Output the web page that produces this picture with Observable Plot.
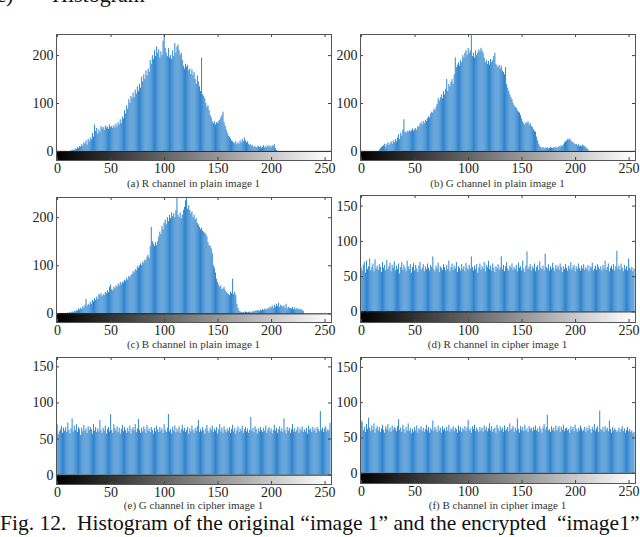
<!DOCTYPE html>
<html>
<head>
<meta charset="utf-8">
<script src="https://cdn.jsdelivr.net/npm/d3@7"></script>
<script src="https://cdn.jsdelivr.net/npm/@observablehq/plot@0.6"></script>
<style>
  html, body { margin: 0; padding: 0; background: #fff; }
  #root { position: relative; width: 640px; height: 537px; overflow: hidden; font-family: "Liberation Serif", serif; color: #222; background: #fff; }
  .panel { position: absolute; }
  .panel svg { background: transparent !important; }
  .panel svg text { font-family: "Liberation Serif", serif !important; }
  .lbl { position: absolute; font-size: 11px; transform: translate(-50%, -50%); white-space: nowrap; color: #333; font-family: "Liberation Serif", serif; }
  .cap { position: absolute; font-size: 21.5px; white-space: pre; line-height: 1; color: #111; font-family: "Liberation Serif", serif; }
</style>
</head>
<body>
<div id="root"></div>
<script>
// ---- data ----
const xTickValues = [0, 50, 100, 150, 200, 250];
const plainYTicks = [0, 100, 200];
const cipherYTicks = [0, 50, 100, 150];

const panelLabels = [
  "(a) R channel in plain image 1",
  "(b) G channel in plain image 1",
  "(c) B channel in plain image 1",
  "(d) R channel in cipher image 1",
  "(e) G channel in cipher image 1",
  "(f) B channel in cipher image 1"
];
const captionText = "Fig. 12.  Histogram of the original \u201cimage 1\u201d and the encrypted  \u201cimage1\u201d";
const headingPrefix = "(c)";
const headingWord = "Histogram";

const plainR = [
0,0,0,0,0,0,0,0,0,0,0,0,0,1,2,3,
2,5,4,8,6,10,9,14,11,18,15,22,13,25,20,28,
24,38,30,55,42,48,36,45,40,52,47,50,44,53,49,51,
46,55,50,52,48,54,49,57,51,60,55,66,58,72,68,85,
78,95,88,108,100,115,110,122,112,128,120,135,125,140,132,155,
145,160,150,168,158,172,165,190,182,200,192,210,198,218,205,212,
195,208,200,230,245,215,205,198,215,195,200,192,210,198,225,205,
218,222,210,200,205,190,178,172,182,176,180,168,172,160,170,158,
165,150,140,158,145,135,125,195,118,115,110,100,92,95,85,75,
70,62,58,62,55,60,58,62,65,70,75,82,60,52,45,38,
32,30,26,22,20,18,16,20,14,18,15,22,18,25,20,28,
22,18,20,15,12,14,10,12,8,10,7,9,11,8,10,6,
9,12,7,10,8,12,9,11,8,12,10,14,6,2,0,0,
0,0,0,0,0,0,0,0,0,0,0,0,0,0,0,0,
0,0,0,0,0,0,0,0,0,0,0,0,0,0,0,0,
0,0,0,0,0,0,0,0,0,0,0,0,0,0,0,0
];
const plainG = [
0,0,0,0,0,0,0,0,0,0,0,0,0,0,0,0,
0,3,6,8,10,12,15,9,14,18,12,16,20,15,22,18,
25,20,28,35,25,38,32,45,66,40,38,42,40,44,41,43,
47,42,45,48,44,52,50,56,60,55,62,58,65,62,68,72,
70,78,82,80,88,85,92,98,110,105,112,118,110,125,118,130,
150,125,140,135,145,150,140,160,195,175,180,185,178,190,185,200,
195,205,210,200,215,205,210,245,198,205,195,210,200,205,212,208,
215,210,205,195,185,190,182,188,180,192,185,190,198,205,182,178,
175,180,172,178,168,165,160,175,140,132,125,118,112,108,100,95,
92,90,85,82,80,75,68,62,58,55,60,58,62,55,58,52,
50,45,42,40,30,22,15,10,8,6,8,5,7,6,8,5,
6,8,7,6,8,7,9,6,8,10,9,12,10,14,18,20,
22,25,24,26,22,20,18,16,14,15,12,14,10,12,9,13,
11,10,8,6,3,0,0,0,0,0,0,0,0,0,0,0,
0,0,0,0,0,0,0,0,0,0,0,0,0,0,0,0,
0,0,0,0,0,0,0,0,0,0,0,0,0,0,0,0
];
const plainB = [
0,0,0,0,0,0,0,0,0,1,2,1,3,2,4,3,
5,4,7,5,10,8,12,9,15,12,18,30,16,20,18,24,
20,28,25,32,28,35,30,40,38,42,36,40,38,45,42,48,
44,55,60,50,48,55,52,58,55,62,58,65,60,66,64,70,
68,74,70,78,75,80,82,88,85,92,90,98,95,100,104,100,
108,105,112,110,118,122,115,140,180,150,145,140,148,142,150,160,
170,165,182,175,188,195,185,200,192,205,198,210,202,208,200,215,
243,205,200,210,198,205,215,222,235,243,218,225,215,208,212,200,
205,195,198,188,185,180,175,178,172,170,168,165,160,148,142,140,
135,125,100,95,85,72,65,60,55,58,50,52,55,48,45,42,
40,38,45,42,72,40,45,38,20,12,6,4,3,2,3,2,
4,3,2,3,4,2,3,5,4,6,5,7,6,5,8,6,
9,7,10,8,9,12,10,14,12,16,11,18,14,20,15,22,
13,18,16,14,17,12,20,10,14,12,11,10,13,9,12,8,
11,9,10,8,9,7,5,0,0,0,0,0,0,0,0,0,
0,0,0,0,0,0,0,0,0,0,0,0,0,0,0,0
];
const cipherR = [
62,58,66,70,55,72,60,64,75,58,63,68,57,74,61,65,
59,67,63,56,70,62,66,58,73,60,64,69,57,66,62,71,
58,65,60,68,54,63,70,59,66,62,57,72,64,60,67,55,
63,69,58,66,61,56,65,70,59,62,67,57,64,60,68,62,
58,66,63,78,60,57,65,61,69,56,64,62,59,67,63,58,
66,60,72,57,63,68,59,65,61,70,56,64,62,58,67,60,
64,57,69,62,59,66,61,78,63,58,65,60,67,55,62,68,
59,64,61,70,57,66,63,72,60,65,58,68,62,56,64,61,
67,59,63,78,60,66,57,64,70,61,58,65,62,68,59,63,
60,66,57,69,62,64,58,72,61,56,65,85,60,63,67,58,
64,61,68,57,63,66,59,71,62,60,65,58,82,63,61,67,
58,64,60,69,62,57,66,61,65,59,68,63,56,64,60,67,
62,58,65,61,70,59,63,66,57,64,60,68,62,58,65,61,
67,59,63,60,66,57,64,62,69,58,61,65,59,67,63,60,
64,58,66,61,72,59,63,68,57,62,65,60,67,58,64,86,
61,65,59,68,62,57,66,60,64,58,75,62,59,63,57,61
];
const cipherG = [
70,56,60,63,68,58,65,61,66,59,72,62,57,64,78,60,
68,62,70,59,66,63,55,65,60,69,61,64,58,67,62,66,
63,57,70,61,66,59,64,60,76,62,58,65,61,68,57,63,
66,60,84,62,58,70,64,61,67,59,65,57,63,69,60,66,
62,58,65,60,68,57,63,66,61,70,59,64,77,62,58,65,
60,67,63,58,69,61,64,59,66,62,57,65,60,68,63,59,
66,61,64,58,70,62,59,65,84,60,63,57,66,61,68,59,
64,60,67,58,63,69,61,65,59,62,66,57,64,60,68,62,
58,65,61,67,76,59,63,60,66,62,57,64,69,61,58,65,
62,68,59,64,61,66,57,63,70,60,65,58,67,62,59,64,
61,66,58,63,69,60,65,57,62,67,59,64,61,68,58,63,
66,60,64,58,62,80,61,65,59,67,63,57,64,60,66,62,
59,65,61,68,58,63,66,60,64,57,62,69,61,65,58,63,
67,60,64,59,78,62,57,66,61,65,58,63,70,60,64,59,
62,66,58,64,61,67,59,63,60,65,57,68,62,64,59,66,
61,64,58,66,63,60,88,62,65,59,64,67,60,63,61,72
];
const cipherB = [
74,72,60,65,58,69,62,78,64,59,67,61,70,57,63,66,
60,65,58,63,68,61,57,66,62,69,59,64,58,67,61,65,
63,59,66,76,61,64,58,68,62,57,65,60,70,59,63,56,
62,58,65,60,67,57,63,61,66,59,64,58,62,68,60,65,
57,63,61,74,59,65,62,58,67,60,64,57,66,61,63,59,
65,60,68,58,63,61,66,59,64,62,57,67,60,65,58,63,
61,66,59,64,75,60,63,57,66,62,68,59,64,61,58,65,
60,64,58,67,61,65,59,63,70,60,66,58,62,64,57,68,
63,59,66,61,64,58,67,60,62,65,59,70,61,63,66,58,
64,60,77,62,57,66,61,65,59,68,60,63,58,66,62,64,
59,65,61,67,60,63,58,66,62,57,64,69,61,65,82,60,
62,58,66,61,64,59,67,60,63,66,58,65,61,68,59,63,
64,60,62,57,66,61,65,59,68,62,58,64,60,67,63,59,
61,65,58,64,60,67,62,57,65,61,69,59,63,66,58,88,
62,60,65,58,66,61,64,59,74,62,57,65,60,63,61,58,
60,64,58,62,66,59,63,57,61,65,59,62,58,60,56,58
];
const grayLevels = d3.range(256);

// ---- layout ----
const root = document.getElementById("root");
const MT = 10, MB = 22;
const FONT = "Liberation Serif, serif";
const panels = [
  {vals: plainR,  yDomain: [-19, 244],  yTicks: plainYTicks,  left: 0,   W: 340, ml: 56, mr: 9, frameTop: 34,  frameH: 126, labelY: 183},
  {vals: plainG,  yDomain: [-19, 244],  yTicks: plainYTicks,  left: 320, W: 320, ml: 40, mr: 5, frameTop: 34,  frameH: 126, labelY: 183},
  {vals: plainB,  yDomain: [-18, 242],  yTicks: plainYTicks,  left: 0,   W: 340, ml: 56, mr: 9, frameTop: 197, frameH: 125, labelY: 344},
  {vals: cipherR, yDomain: [-15, 165],  yTicks: cipherYTicks, left: 320, W: 320, ml: 40, mr: 5, frameTop: 195, frameH: 127, labelY: 344},
  {vals: cipherG, yDomain: [-13, 163],  yTicks: cipherYTicks, left: 0,   W: 340, ml: 56, mr: 9, frameTop: 357, frameH: 127, labelY: 505},
  {vals: cipherB, yDomain: [-14.5, 164],yTicks: cipherYTicks, left: 320, W: 320, ml: 40, mr: 5, frameTop: 357, frameH: 126, labelY: 505}
];

function makePanel(p) {
  const xd = [-1, 256];
  const iw = p.W - p.ml - p.mr;
  const kx = iw / (xd[1] - xd[0]);
  const ky = p.frameH / (p.yDomain[1] - p.yDomain[0]);
  const tl = 3;
  const data = p.vals.map((v, i) => ({i, v}));
  const [y0, y1] = p.yDomain;
  return Plot.plot({
    width: p.W, height: p.frameH + MT + MB,
    marginLeft: p.ml, marginRight: p.mr, marginTop: MT, marginBottom: MB,
    x: {domain: xd},
    y: {domain: p.yDomain},
    color: {type: "identity"},
    style: {fontFamily: FONT, fontSize: "14px", background: "transparent", color: "#222", overflow: "visible"},
    marks: [
      Plot.rect(grayLevels, {x1: i => i - 0.5, x2: i => i + 0.5, y1: y0, y2: 0, fill: i => `rgb(${i},${i},${i})`, shapeRendering: "crispEdges"}),
      Plot.rect(data, {x1: d => d.i - 0.5, x2: d => d.i + 0.5, y1: 0, y2: "v", fill: "#2b82cd", insetLeft: 0.1, clip: true}),
      Plot.ruleY([0], {stroke: "#222", strokeWidth: 1}),
      Plot.ruleX(xTickValues, {x: d => d, y1: y1, y2: y1 - tl / ky, stroke: "#444"}),
      Plot.ruleX(xTickValues, {x: d => d, y1: y0, y2: y0 + tl / ky, stroke: "#444"}),
      Plot.ruleY(p.yTicks, {y: d => d, x1: xd[0], x2: xd[0] + tl / kx, stroke: "#444"}),
      Plot.ruleY(p.yTicks, {y: d => d, x1: xd[1], x2: xd[1] - tl / kx, stroke: "#444"}),
      Plot.frame({stroke: "#555"}),
      Plot.axisX({ticks: xTickValues, tickSize: 0, tickPadding: 3, label: null, fontSize: 14, fontFamily: FONT, fill: "#222"}),
      Plot.axisY({ticks: p.yTicks, tickSize: 0, tickPadding: 3, label: null, fontSize: 14, fontFamily: FONT, fill: "#222"})
    ]
  });
}

panels.forEach((p) => {
  const div = document.createElement("div");
  div.className = "panel";
  div.style.left = p.left + "px";
  div.style.top = (p.frameTop - MT) + "px";
  div.appendChild(makePanel(p));
  root.appendChild(div);
});
panels.forEach((p, k) => {
  const lbl = document.createElement("div");
  lbl.className = "lbl";
  lbl.textContent = panelLabels[k];
  lbl.style.left = (p.left + p.ml + (p.W - p.ml - p.mr) / 2) + "px";
  lbl.style.top = p.labelY + "px";
  root.appendChild(lbl);
});

const head1 = document.createElement("div");
head1.className = "cap";
head1.style.fontSize = "22px";
head1.textContent = headingPrefix;
head1.style.left = "-11px";
head1.style.top = "-16px";
root.appendChild(head1);
const head2 = document.createElement("div");
head2.className = "cap";
head2.style.fontSize = "22px";
head2.textContent = headingWord;
head2.style.left = "52px";
head2.style.top = "-16px";
root.appendChild(head2);

const cap = document.createElement("div");
cap.className = "cap";
cap.textContent = captionText;
cap.style.left = "0px";
cap.style.top = "513px";
root.appendChild(cap);
</script>
</body>
</html>
